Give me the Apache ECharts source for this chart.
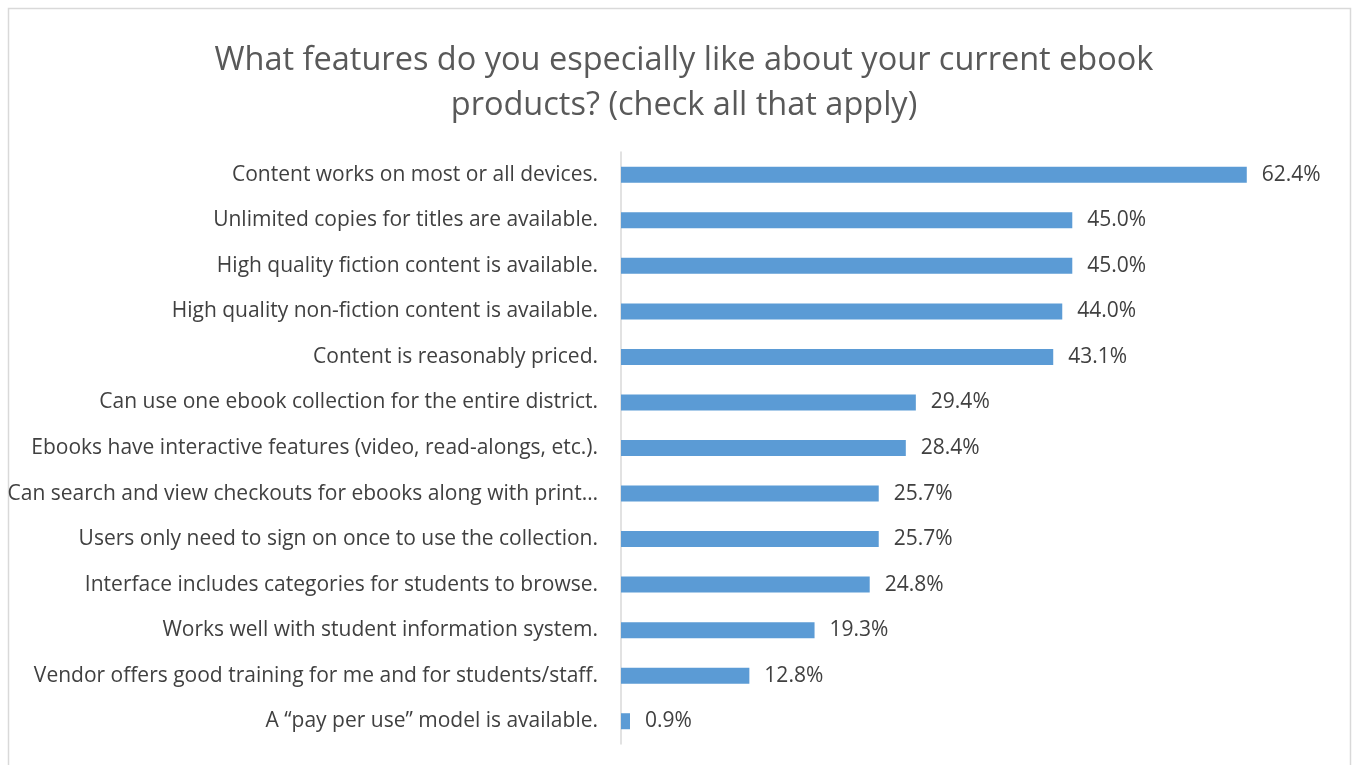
<!DOCTYPE html>
<html><head><meta charset="utf-8">
<script src="https://cdn.jsdelivr.net/npm/echarts@6/dist/echarts.min.js"></script>
<style>html,body{margin:0;padding:0;background:#fff;}#c{width:1353px;height:765px;}</style>
</head><body><div id="c"></div>
<script>
const categories = [
  "Content works on most or all devices.",
  "Unlimited copies for titles are available.",
  "High quality fiction content is available.",
  "High quality non-fiction content is available.",
  "Content is reasonably priced.",
  "Can use one ebook collection for the entire district.",
  "Ebooks have interactive features (video, read-alongs, etc.).",
  "Can search and view checkouts for ebooks along with print\u2026",
  "Users only need to sign on once to use the collection.",
  "Interface includes categories for students to browse.",
  "Works well with student information system.",
  "Vendor offers good training for me and for students/staff.",
  "A \u201cpay per use\u201d model is available."
];
const values = [62.4, 45.0, 45.0, 44.0, 43.1, 29.4, 28.4, 25.7, 25.7, 24.8, 19.3, 12.8, 0.9];
const titleText = "What features do you especially like about your current ebook\nproducts? (check all that apply)";

const chart = echarts.init(document.getElementById('c'), null, {renderer: 'canvas'});
chart.setOption({
  animation: false,
  backgroundColor: '#fff',
  graphic: [{
    type: 'rect', shape: {x: 8.5, y: 8.5, width: 1342, height: 800},
    style: {fill: 'none', stroke: '#d9d9d9', lineWidth: 1.5}, silent: true
  }],
  title: {
    text: titleText, left: 679, top: 33, textAlign: 'center',
    textStyle: {fontFamily: 'Open Sans', fontWeight: 'normal', fontSize: 32.5, color: '#595959', lineHeight: 45}
  },
  grid: {left: 621, right: 30, top: 152, bottom: 21, containLabel: false},
  xAxis: {type: 'value', min: 0, max: 70, show: false},
  yAxis: {
    type: 'category', data: categories, inverse: true,
    axisLine: {show: true, lineStyle: {color: '#d9d9d9', width: 1.5}},
    axisTick: {show: false},
    axisLabel: {fontFamily: 'Open Sans', fontSize: 21, color: '#404040', margin: 23}
  },
  series: [{
    type: 'bar', data: values, barWidth: 16,
    itemStyle: {color: '#5b9bd5'},
    label: {show: true, position: 'right', distance: 15, fontFamily: 'Open Sans', fontSize: 21, color: '#404040',
      formatter: p => p.value.toFixed(1) + '%'}
  }]
});
</script></body></html>
